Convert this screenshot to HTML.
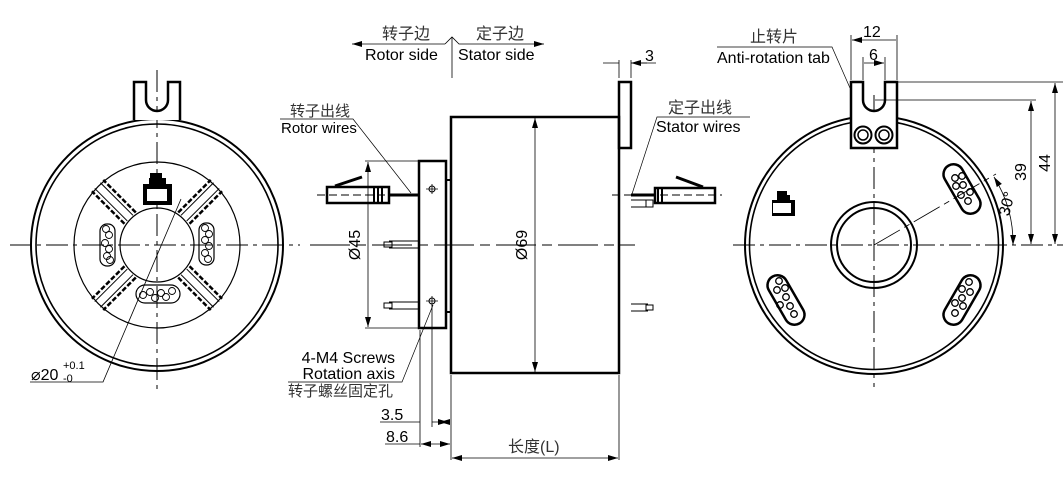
<!DOCTYPE html>
<html><head><meta charset="utf-8"><style>
html,body{margin:0;padding:0;background:#fff;}
svg{display:block;}
text{font-family:"Liberation Sans","Noto Sans CJK SC",sans-serif;fill:#000;}
.c{font-family:"Liberation Sans","Noto Sans CJK SC",sans-serif;fill:#333;}
</style></head><body>
<svg width="1063" height="483" viewBox="0 0 1063 483" xmlns="http://www.w3.org/2000/svg">
<defs>
<marker id="a" viewBox="0 0 10 6" refX="10" refY="3" markerWidth="10" markerHeight="6" orient="auto-start-reverse" markerUnits="userSpaceOnUse"><path d="M0,0L10,3L0,6z" fill="#000"/></marker>
</defs>
<g fill="none" stroke="#000">
<!-- LEFT VIEW -->
<path d="M10,245H300" stroke-dasharray="22,5,4,5" stroke-width="1"/>
<path d="M157,70V390" stroke-dasharray="22,5,4,5" stroke-width="1"/>
<circle cx="157" cy="245" r="126" stroke-width="2"/>
<circle cx="157" cy="245" r="121" stroke-width="1.6"/>
<circle cx="157" cy="245" r="83" stroke-width="1.2"/>
<circle cx="157" cy="245" r="37" stroke-width="1.2"/>
<path d="M134,120V82H146V100A11,11 0 0 0 168,100V82H180V120" stroke-width="2.5" fill="#fff"/>
<g stroke-width="1">
<g transform="translate(157,245) rotate(45)"><path d="M-4,-38V-84M4,-38V-84"/><path d="M-8,-38V-84M8,-38V-84" stroke-width="2.5" stroke-dasharray="5,2"/></g>
<g transform="translate(157,245) rotate(-45)"><path d="M-4,-38V-84M4,-38V-84"/><path d="M-8,-38V-84M8,-38V-84" stroke-width="2.5" stroke-dasharray="5,2"/></g>
<g transform="translate(157,245) rotate(135)"><path d="M-4,-38V-84M4,-38V-84"/><path d="M-8,-38V-84M8,-38V-84" stroke-width="2.5" stroke-dasharray="5,2"/></g>
<g transform="translate(157,245) rotate(-135)"><path d="M-4,-38V-84M4,-38V-84"/><path d="M-8,-38V-84M8,-38V-84" stroke-width="2.5" stroke-dasharray="5,2"/></g>
</g>
<rect x="100" y="224" width="15" height="42" rx="7" stroke-width="1.2"/>
<rect x="199" y="223" width="15" height="42" rx="7" stroke-width="1.2"/>
<rect x="136" y="285" width="44" height="18" rx="9" stroke-width="1.2"/>
<g stroke-width="0.9">
<circle cx="106" cy="229" r="3.5"/><circle cx="109" cy="235" r="3.5"/><circle cx="105" cy="243" r="3.5"/><circle cx="109" cy="249" r="3.5"/><circle cx="107" cy="256" r="3.5"/><circle cx="110" cy="260" r="3.5"/>
<circle cx="205" cy="228" r="3.5"/><circle cx="209" cy="234" r="3.5"/><circle cx="205" cy="240" r="3.5"/><circle cx="209" cy="246" r="3.5"/><circle cx="205" cy="253" r="3.5"/><circle cx="208" cy="259" r="3.5"/>
<circle cx="143" cy="295" r="3.5"/><circle cx="150" cy="292" r="3.5"/><circle cx="155" cy="298" r="3.5"/><circle cx="161" cy="293" r="3.5"/><circle cx="166" cy="297" r="3.5"/><circle cx="172" cy="291" r="3.5"/>
</g>
<path d="M181,199L103,382H30" stroke-width="0.8"/>
</g>
<path d="M150,173h12v5h4v6h6v21h-29v-21h6v-6h1z" fill="#000"/>
<rect x="147" y="189" width="20" height="12" fill="#fff"/>
<text x="31" y="380" font-size="16">⌀20</text><text x="63" y="382" font-size="11">-0</text><text x="63" y="369" font-size="11">+0.1</text>

<!-- MIDDLE VIEW -->
<g fill="none" stroke="#000">
<path d="M310,245H635" stroke-dasharray="40,6,10,6" stroke-width="1"/>
<rect x="451" y="117" width="168" height="256" stroke-width="2.5"/>
<rect x="419" y="161" width="27" height="167" stroke-width="2.5"/>
<path d="M446,180H451M446,312H451" stroke-width="2"/>
<rect x="619" y="82" width="12" height="66" stroke-width="2.5"/>
<path d="M389,195H419" stroke-width="3"/>
<rect x="327" y="187" width="62" height="16" stroke-width="2.5"/>
<path d="M374,187V203M378,187V203M382,187V203" stroke-width="2"/>
<path d="M335,186L362,177" stroke-width="3"/>
<path d="M317,195H405" stroke-dasharray="8,4" stroke-width="1"/>
<path d="M389,241H419M389,248H419M389,302H419M389,309H419" stroke-width="1"/>
<rect x="384" y="242" width="8" height="5" stroke-width="1"/><rect x="384" y="303" width="8" height="5" stroke-width="1"/>
<circle cx="432" cy="189" r="3" stroke-width="1"/><path d="M426,189H438M432,184V194" stroke-width="0.8"/>
<circle cx="432" cy="301" r="3" stroke-width="1"/><path d="M426,301H438M432,296V306" stroke-width="0.8"/>
<path d="M631,195H656" stroke-width="3"/>
<rect x="655" y="188" width="60" height="15" stroke-width="2.5"/>
<path d="M658,188V203M662,188V203" stroke-width="2"/>
<path d="M703,187L676,177" stroke-width="3"/>
<path d="M612,195H722" stroke-dasharray="8,4" stroke-width="1"/>
<path d="M631,200H648M631,207H648M631,304H648M631,311H648" stroke-width="1"/>
<rect x="646" y="200" width="7" height="7" stroke-width="1"/><rect x="646" y="305" width="7" height="5" stroke-width="1"/>
<path d="M365,161H419M365,328H419" stroke-width="0.8"/>
<path d="M368,162V327" stroke-width="0.8" marker-start="url(#a)" marker-end="url(#a)"/>
<path d="M535,118V372" stroke-width="0.8" marker-start="url(#a)" marker-end="url(#a)"/>
<path d="M451,375V460M619,375V460" stroke-width="0.8"/>
<path d="M452,458H618" stroke-width="0.8" marker-start="url(#a)" marker-end="url(#a)"/>
<path d="M420,330V447M432,305V427" stroke-width="0.8"/>
<path d="M380,422H420M432,422H448" stroke-width="0.8" marker-end="url(#a)"/>
<path d="M450,422H440" stroke-width="0.8" marker-end="url(#a)"/>
<path d="M385,444H420" stroke-width="0.8"/>
<path d="M421,444H450" stroke-width="0.8" marker-start="url(#a)" marker-end="url(#a)"/>
<path d="M619,78V60M631,78V60" stroke-width="0.8"/>
<path d="M603,63H619M647,63H631" stroke-width="0.8" marker-end="url(#a)"/>
<path d="M631,63H656" stroke-width="0.8"/>
<path d="M452,37V78" stroke-width="0.8"/>
<path d="M445,44H352" stroke-width="0.8" marker-end="url(#a)"/>
<path d="M445,44L452,37L459,44H544" stroke-width="0.8" marker-end="url(#a)"/>
<path d="M280,119H353L411,193" stroke-width="0.7"/>
<path d="M750,117H657L632,194" stroke-width="0.7"/>
<path d="M433,305L402,382H288" stroke-width="0.7"/>
</g>
<text class="c" x="382" y="39" font-size="16">转子边</text>
<text x="365" y="60" font-size="16">Rotor side</text>
<text class="c" x="476" y="39" font-size="16">定子边</text>
<text x="458" y="60" font-size="16">Stator side</text>
<text x="645" y="61" font-size="16">3</text>
<text class="c" x="290" y="116" font-size="15">转子出线</text>
<text x="281" y="133" font-size="15">Rotor wires</text>
<text class="c" x="668" y="113" font-size="16">定子出线</text>
<text x="656" y="132" font-size="16">Stator wires</text>
<text x="360" y="245" font-size="16" transform="rotate(-90 360 245)" text-anchor="middle">Ø45</text>
<text x="527" y="245" font-size="16" transform="rotate(-90 527 245)" text-anchor="middle">Ø69</text>
<text x="395" y="363" font-size="16" text-anchor="end">4-M4 Screws</text>
<text x="395" y="379" font-size="16" text-anchor="end">Rotation axis</text>
<text class="c" x="288" y="396" font-size="15">转子螺丝固定孔</text>
<text x="381" y="420" font-size="16">3.5</text>
<text x="386" y="442" font-size="16">8.6</text>
<text class="c" x="508" y="452" font-size="16">长度(L)</text>

<!-- RIGHT VIEW -->
<g fill="none" stroke="#000">
<path d="M733,245H1063" stroke-dasharray="22,5,4,5" stroke-width="1"/>
<path d="M874,95V387" stroke-dasharray="22,5,4,5" stroke-width="1"/>
<circle cx="874" cy="245" r="129" stroke-width="2"/>
<circle cx="874" cy="245" r="124.5" stroke-width="1.6"/>
<circle cx="874" cy="245" r="43" stroke-width="2"/>
<circle cx="874" cy="245" r="37" stroke-width="2"/>
<path d="M851,148V82H863V100A11,11 0 0 0 885,100V82H897V148Z" stroke-width="2.5" fill="#fff"/>
<circle cx="863" cy="135" r="8.5" stroke-width="2"/><circle cx="863" cy="135" r="5" stroke-width="1.5"/>
<circle cx="884" cy="135" r="8.5" stroke-width="2"/><circle cx="884" cy="135" r="5" stroke-width="1.5"/>
<g transform="translate(962,189) rotate(-30)"><rect x="-10" y="-27" width="20" height="54" rx="10" stroke-width="2.5"/></g>
<g transform="translate(786,300) rotate(-30)"><rect x="-10" y="-27" width="20" height="54" rx="10" stroke-width="2.5"/></g>
<g transform="translate(962,300) rotate(30)"><rect x="-10" y="-27" width="20" height="54" rx="10" stroke-width="2.5"/></g>
<g stroke-width="1.3">
<circle cx="955" cy="178" r="3.3"/><circle cx="962" cy="176" r="3.3"/><circle cx="956" cy="186" r="3.3"/><circle cx="963" cy="185" r="3.3"/><circle cx="961" cy="195" r="3.3"/><circle cx="970" cy="192" r="3.3"/><circle cx="968" cy="201" r="3.3"/>
<circle cx="779" cy="281" r="3.3"/><circle cx="777" cy="290" r="3.3"/><circle cx="785" cy="288" r="3.3"/><circle cx="786" cy="297" r="3.3"/><circle cx="780" cy="305" r="3.3"/><circle cx="790" cy="306" r="3.3"/><circle cx="794" cy="314" r="3.3"/>
<circle cx="969" cy="282" r="3.3"/><circle cx="962" cy="289" r="3.3"/><circle cx="970" cy="292" r="3.3"/><circle cx="962" cy="298" r="3.3"/><circle cx="955" cy="303" r="3.3"/><circle cx="963" cy="306" r="3.3"/><circle cx="955" cy="313" r="3.3"/>
</g>
<path d="M874,245L996,174" stroke-width="0.8" stroke-dasharray="30,5,6,5"/>
<path d="M994,177A124,124 0 0 1 1013,245" stroke-width="0.8" marker-start="url(#a)" marker-end="url(#a)"/>
<path d="M897,82H1063M875,100H1036" stroke-width="0.8"/>
<path d="M1055,83V244" stroke-width="0.8" marker-start="url(#a)" marker-end="url(#a)"/>
<path d="M1031,101V244" stroke-width="0.8" marker-start="url(#a)" marker-end="url(#a)"/>
<path d="M851,80V35M897,80V35M863,80V57M885,80V57" stroke-width="0.8"/>
<path d="M852,40H896M864,63H884" stroke-width="0.8" marker-start="url(#a)" marker-end="url(#a)"/>
<path d="M717,47H832L850,88" stroke-width="0.7"/>
</g>
<path d="M777,191h10v4h3v5h5v16h-23v-16h5z" fill="#000"/>
<rect x="773" y="203" width="18" height="10" fill="#fff"/>
<text x="863" y="37" font-size="16">12</text>
<text x="869" y="60" font-size="16">6</text>
<text class="c" x="750" y="42" font-size="16">止转片</text>
<text x="717" y="63" font-size="16">Anti-rotation tab</text>
<text x="1050" y="163" font-size="16" transform="rotate(-90 1050 163)" text-anchor="middle">44</text>
<text x="1026" y="172" font-size="16" transform="rotate(-90 1026 172)" text-anchor="middle">39</text>
<text x="1012" y="205" font-size="16" transform="rotate(-75 1012 205)" text-anchor="middle">30°</text>
</svg>
</body></html>
